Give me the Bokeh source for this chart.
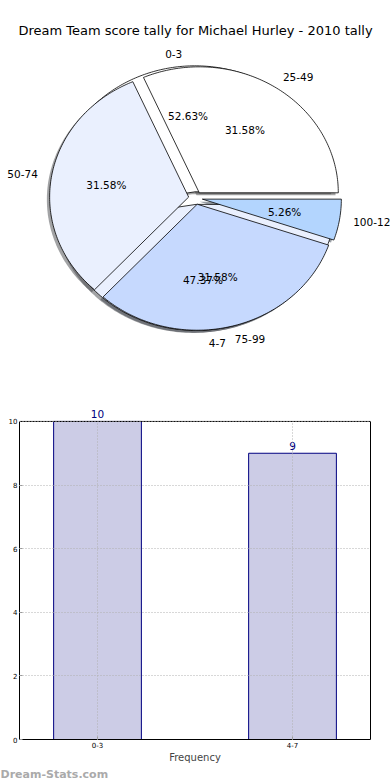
import numpy as np
from bokeh.plotting import figure
from bokeh.models import (ColumnDataSource, Label, FactorRange, Range1d, FixedTicker,
                          LinearAxis, Span, Title)
from bokeh.layouts import column
from bokeh.embed import file_html
from bokeh.resources import INLINE

# ---------------- data ----------------
chart_title = "Dream Team score tally for Michael Hurley - 2010 tally"
freq_labels = ["0-3", "4-7"]
freq_counts = [10, 9]
score_labels = ["25-49", "50-74", "75-99", "100-124"]
score_counts = [6, 6, 6, 1]
pie_colors = ["#FFFFFF", "#EAF0FE", "#C6D9FE", "#B3D5FE"]
bar_labels = ["0-3", "4-7"]
bar_values = [10, 9]
y_ticks = [0, 2, 4, 6, 8, 10]
y_max = 10
x_axis_label = "Frequency"
watermark = "Dream-Stats.com"

FONT = "DejaVu Sans"
EXPLODE = 0.05


def no_align(p):
    if "frame_align" in p.properties():
        p.frame_align = False


# ---------------- pie figure ----------------
W, H1, H2 = 390, 352, 428
cx, cy, rx, ry = 195.0, 197.6, 139.0, 126.0
p1 = figure(width=W, height=H1, output_backend="svg", toolbar_location=None,
            title=None,
            x_range=Range1d(-cx / rx, (W - cx) / rx),
            y_range=Range1d(-(H1 - cy) / ry, cy / ry),
            min_border=0)
no_align(p1)
p1.axis.visible = False
p1.grid.visible = False
p1.outline_line_color = None


def shade(hexcol):
    h = hexcol.lstrip("#")
    r, g, b = (int(h[i:i + 2], 16) for i in (0, 2, 4))
    return "#%02x%02x%02x" % (int(r * 0.3), int(g * 0.3), int(b * 0.3))


def build_pie(counts, labels):
    counts = np.asarray(counts, dtype=float)
    fr = counts / counts.sum()
    edges = np.concatenate([[0.0], np.cumsum(fr)]) * 360.0
    xs, ys, sxs, sys_, cols, scols, texts = [], [], [], [], [], [], []
    for i in range(len(counts)):
        t1, t2 = edges[i], edges[i + 1]
        tm = np.radians((t1 + t2) / 2)
        ox, oy = EXPLODE * np.cos(tm), EXPLODE * np.sin(tm)
        n = max(int(t2 - t1), 2) + 1
        ts = np.radians(np.linspace(t1, t2, n))
        px = np.concatenate([[ox], ox + np.cos(ts), [ox]])
        py = np.concatenate([[oy], oy + np.sin(ts), [oy]])
        xs.append(list(px)); ys.append(list(py))
        sxs.append(list(px - 0.02)); sys_.append(list(py - 0.02))
        c = pie_colors[i % len(pie_colors)]
        cols.append(c); scols.append(shade(c))
        texts.append((ox + 0.6 * np.cos(tm), oy + 0.6 * np.sin(tm),
                      "%1.2f%%" % (fr[i] * 100), "center"))
        lx = ox + 1.1 * np.cos(tm)
        texts.append((lx, oy + 1.1 * np.sin(tm), labels[i],
                      "left" if lx > 0 else "right"))
    return dict(xs=xs, ys=ys, c=cols), dict(xs=sxs, ys=sys_, c=scols), texts


pies = [build_pie(freq_counts, freq_labels), build_pie(score_counts, score_labels)]

for pie in pies:   # shadows below all wedges
    p1.patches("xs", "ys", source=ColumnDataSource(pie[1]), fill_color="c",
               fill_alpha=0.5, line_color=None)
for pie in pies:
    p1.patches("xs", "ys", source=ColumnDataSource(pie[0]), fill_color="c",
               line_color="black", line_width=0.8)
for pie in pies:
    for (tx, ty, tt, ta) in pie[2]:
        p1.add_layout(Label(x=tx, y=ty, text=tt, text_align=ta, text_baseline="middle",
                            text_font=FONT, text_font_size="10.5px", text_color="black"))

p1.add_layout(Label(x=0, y=(cy - 30) / ry, text=chart_title,
                    text_align="center", text_baseline="middle",
                    text_font=FONT, text_font_size="13px", text_color="black"))

# ---------------- bar figure ----------------
FL, FR = 19, 370             # frame left/right in page pixels
FT10, FB = 421, 740          # y = 10 and y = 0 in page pixels
ppu = (FB - FT10) / y_max    # pixels per y unit
FT = 404                     # actual frame top (room for the value label)
p2 = figure(width=W, height=H2, output_backend="svg", toolbar_location=None,
            title=None,
            x_range=FactorRange(*bar_labels, range_padding=-0.1,
                                range_padding_units="absolute"),
            y_range=Range1d(0, y_max + (FT10 - FT) / ppu),
            min_border_top=FT - H1, min_border_bottom=H1 + H2 - FB,
            min_border_right=W - FR, min_border_left=FL)
no_align(p2)
src = ColumnDataSource(dict(x=bar_labels, top=bar_values))
p2.vbar(x="x", top="top", width=0.45, source=src, fill_color="#CCCCE6",
        line_color="#000080", line_width=1)
for i, v in enumerate(bar_values):
    p2.add_layout(Label(x=i + 0.5, y=v, y_offset=3, text=str(v), text_align="center",
                        text_baseline="bottom", text_color="#000080",
                        text_font=FONT, text_font_size="10.5px"))

right_axis = LinearAxis(ticker=FixedTicker(ticks=[]), bounds=(0, y_max),
                        axis_line_color="black", major_label_standoff=0,
                        minor_tick_line_color=None)
p2.add_layout(right_axis, "right")
p2.yaxis[0].ticker = FixedTicker(ticks=y_ticks)
p2.yaxis[0].bounds = (0, y_max)
for ax in (p2.xaxis[0], p2.yaxis[0]):
    ax.major_label_text_font = FONT
    ax.major_tick_in = 3
    ax.major_tick_out = 0
    ax.major_tick_line_color = "#999999"
    ax.minor_tick_line_color = None
    ax.axis_line_color = "black"
    ax.major_label_text_font_size = "7px"
    ax.major_label_text_color = "black"
    ax.major_label_standoff = 2
p2.xaxis[0].axis_label = x_axis_label
p2.xaxis[0].axis_label_text_font = FONT
p2.xaxis[0].axis_label_text_font_size = "10px"
p2.xaxis[0].axis_label_text_font_style = "normal"
p2.xaxis[0].axis_label_standoff = 1
p2.add_layout(Span(location=y_max, dimension="width", line_color="black", line_width=1))
p2.grid.grid_line_color = "#b0b0b0"
p2.grid.grid_line_dash = "1 2"
p2.grid.level = "overlay"
for g in p2.xgrid:
    if "cross_bounds" in g.properties():
        g.cross_bounds = (0, y_max)
p2.outline_line_color = None

p2.add_layout(Title(text=watermark, align="left", offset=-FL, standoff=0,
                    text_font=FONT, text_font_size="11px", text_font_style="bold",
                    text_color="#aaaaaa"), "below")

layout = column(p1, p2, spacing=0)
open("out.html", "w").write(file_html(layout, INLINE))
